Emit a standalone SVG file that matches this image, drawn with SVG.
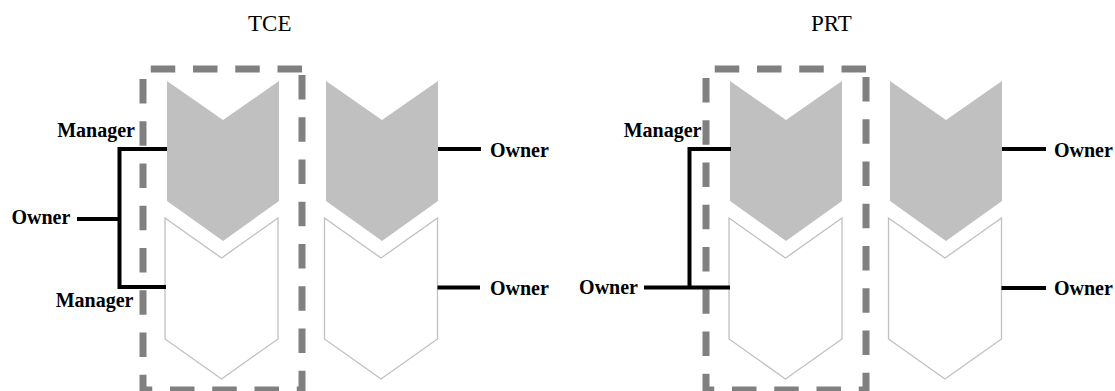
<svg xmlns="http://www.w3.org/2000/svg" xmlns:xlink="http://www.w3.org/1999/xlink" width="1115" height="391" viewBox="0 0 1115 391">
  <style>
    .title { font-family: "Liberation Serif", "Times New Roman", serif; font-size: 23px; fill: #000; }
    .lbl { font-family: "Liberation Serif", "Times New Roman", serif; font-size: 20px; font-weight: bold; fill: #000; }
    .frame { fill: none; stroke: #808080; stroke-width: 7; stroke-dasharray: 24.5 17.75; stroke-linejoin: miter; }
    .solid { fill: #c0c0c0; stroke: none; }
    .hollow { fill: #fff; stroke: #c0c0c0; stroke-width: 1.3; }
    .wire { fill: none; stroke: #000; stroke-width: 4; }
  </style>
  <defs>
    <polygon id="chev-solid" class="solid" points="0,0 56,39 112,0 112,120 56,160 0,120"/>
    <polygon id="chev-hollow" class="hollow" points="0,0 56.5,40 113,0 113,121 56.5,161 0,121"/>
  </defs>
  <rect width="1115" height="391" fill="#fff"/>

  <!-- TCE group: hollow stages first so the filled stage tips sit on top -->
  <g id="tce">
    <text id="tce-title" class="title" x="248" y="31">TCE</text>
    <path id="tce-frame" class="frame" d="M302,69 H143 V390 H302 Z"/>
    <g id="tce-a2"><use xlink:href="#chev-hollow" x="165" y="218"/></g>
    <g id="tce-a1"><use xlink:href="#chev-solid" x="167" y="81"/></g>
    <g id="tce-b2"><use xlink:href="#chev-hollow" x="324.5" y="218"/></g>
    <g id="tce-b1"><use xlink:href="#chev-solid" x="326" y="81"/></g>
    <g id="tce-lbl-mgr1"><text class="lbl" x="135" y="137" text-anchor="end">Manager</text></g>
    <g id="tce-lbl-mgr2"><text class="lbl" x="133.5" y="307" text-anchor="end">Manager</text></g>
    <g id="tce-lbl-own"><text class="lbl" x="11.5" y="224">Owner</text></g>
    <g id="tce-lbl-own-b1"><text class="lbl" x="490" y="157">Owner</text></g>
    <g id="tce-lbl-own-b2"><text class="lbl" x="490" y="295">Owner</text></g>
  </g>

  <!-- PRT group -->
  <g id="prt">
    <text id="prt-title" class="title" x="811" y="31">PRT</text>
    <path id="prt-frame" class="frame" d="M866,69 H706 V390 H866 Z"/>
    <g id="prt-a2"><use xlink:href="#chev-hollow" x="729" y="218"/></g>
    <g id="prt-a1"><use xlink:href="#chev-solid" x="730" y="81"/></g>
    <g id="prt-b2"><use xlink:href="#chev-hollow" x="888.5" y="218"/></g>
    <g id="prt-b1"><use xlink:href="#chev-solid" x="890" y="81"/></g>
    <g id="prt-lbl-mgr"><text class="lbl" x="701.5" y="137" text-anchor="end">Manager</text></g>
    <g id="prt-lbl-own"><text class="lbl" x="638" y="294" text-anchor="end">Owner</text></g>
    <g id="prt-lbl-own-b1"><text class="lbl" x="1054" y="157">Owner</text></g>
    <g id="prt-lbl-own-b2"><text class="lbl" x="1054" y="295">Owner</text></g>
  </g>

  <!-- connectors -->
  <g id="connectors">
    <path class="wire" d="M167,149 H119.5 V287 H166"/>
    <path class="wire" d="M77,219 H119.5"/>
    <path class="wire" d="M438,149 H481"/>
    <path class="wire" d="M437.5,287.5 H480"/>
    <path class="wire" d="M731,149 H689.5 V287.5"/>
    <path class="wire" d="M644,287.5 H730"/>
    <path class="wire" d="M1002,149 H1046"/>
    <path class="wire" d="M1001.5,288 H1046"/>
  </g>
</svg>
